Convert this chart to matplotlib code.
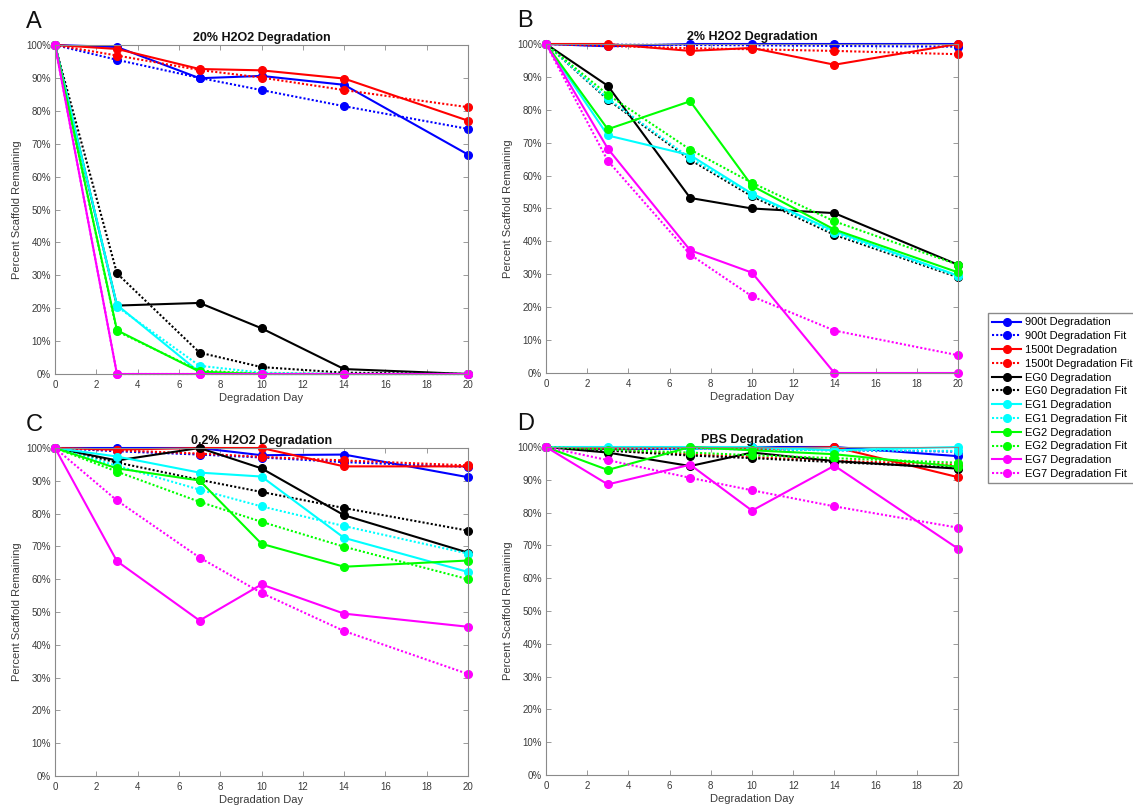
import matplotlib
matplotlib.use("Agg")
import matplotlib.pyplot as plt
from matplotlib.ticker import FuncFormatter

days = [0, 3, 7, 10, 14, 20]

labels = ["900t Degradation", "900t Degradation Fit",
          "1500t Degradation", "1500t Degradation Fit",
          "EG0 Degradation", "EG0 Degradation Fit",
          "EG1 Degradation", "EG1 Degradation Fit",
          "EG2 Degradation", "EG2 Degradation Fit",
          "EG7 Degradation", "EG7 Degradation Fit"]
colors = ["#0000ff", "#0000ff", "#ff0000", "#ff0000", "#000000", "#000000",
          "#00ffff", "#00ffff", "#00ff00", "#00ff00", "#ff00ff", "#ff00ff"]

# 20% H2O2 (panel A), rows in label order
h2o2_20 = [
    [100, 99.4, 89.9, 90.6, 87.9, 66.7],
    [100, 95.5, 90.0, 86.3, 81.4, 74.5],
    [100, 98.8, 92.7, 92.3, 89.8, 77.0],
    [100, 96.8, 92.4, 90.1, 86.3, 81.1],
    [100, 20.8, 21.6, 13.9, 1.5, 0.0],
    [100, 30.6, 6.5, 2.1, 0.4, 0.0],
    [100, 21.0, 0.5, 0.0, 0.0, 0.0],
    [100, 20.5, 2.5, 0.4, 0.0, 0.0],
    [100, 13.3, 0.7, 0.0, 0.0, 0.0],
    [100, 13.0, 1.0, 0.1, 0.0, 0.0],
    [100, 0.0, 0.0, 0.0, 0.0, 0.0],
    [100, 0.0, 0.0, 0.0, 0.0, 0.0],
]

# 2% H2O2 (panel B)
h2o2_2 = [
    [100, 99.3, 100, 100, 100, 100],
    [100, 99.8, 99.7, 99.6, 99.4, 99.2],
    [100, 100, 97.9, 98.8, 93.7, 100],
    [100, 99.4, 98.7, 98.4, 97.9, 96.9],
    [100, 87.3, 53.2, 50.0, 48.6, 32.9],
    [100, 83.1, 64.8, 53.7, 42.0, 29.1],
    [100, 72.2, 66.2, 54.5, 43.1, 29.6],
    [100, 83.4, 65.3, 54.2, 42.5, 29.4],
    [100, 74.1, 82.6, 56.9, 43.6, 30.6],
    [100, 84.6, 67.9, 57.8, 46.1, 32.9],
    [100, 68.2, 37.3, 30.5, 0.0, 0.0],
    [100, 64.5, 36.0, 23.3, 12.9, 5.4],
]

# 0.2% H2O2 (panel C)
h2o2_02 = [
    [100, 100, 100, 97.8, 98.0, 91.1],
    [100, 99.0, 98.0, 97.1, 95.7, 94.2],
    [100, 99.5, 100, 100, 94.4, 94.4],
    [100, 99.3, 98.3, 97.3, 96.2, 94.7],
    [100, 96.2, 100, 93.8, 79.5, 68.1],
    [100, 95.6, 90.3, 86.6, 81.7, 74.8],
    [100, 97.4, 92.5, 91.3, 72.6, 62.2],
    [100, 94.6, 87.3, 82.2, 76.2, 67.8],
    [100, 93.8, 90.1, 70.8, 63.8, 65.7],
    [100, 92.8, 83.6, 77.5, 69.9, 60.0],
    [100, 65.5, 47.4, 58.4, 49.5, 45.5],
    [100, 84.0, 66.6, 55.8, 44.2, 31.1],
]

# PBS (panel D)
pbs = [
    [100, 99.3, 99.5, 100, 100, 97.2],
    [100, 99.8, 99.5, 99.3, 99.0, 98.6],
    [100, 99.5, 99.8, 99.3, 100, 90.8],
    [100, 99.0, 97.8, 96.9, 95.8, 94.6],
    [100, 98.3, 94.2, 98.3, 95.7, 93.4],
    [100, 98.9, 97.4, 96.6, 95.4, 93.7],
    [100, 100, 100, 100, 99.0, 100],
    [100, 99.8, 99.5, 99.3, 99.0, 98.8],
    [100, 93.0, 100, 99.0, 97.8, 94.0],
    [100, 99.2, 98.3, 97.5, 96.6, 95.2],
    [100, 88.6, 94.6, 80.6, 94.3, 69.0],
    [100, 96.0, 90.6, 86.8, 81.9, 75.4],
]

panels = [
    ("A", "20% H2O2 Degradation", h2o2_20, (55, 45, 468, 374)),
    ("B", "2% H2O2 Degradation", h2o2_2, (546, 44, 958, 373)),
    ("C", "0.2% H2O2 Degradation", h2o2_02, (55, 448, 468, 776)),
    ("D", "PBS Degradation", pbs, (546, 447, 958, 775)),
]

plt.rcParams["font.family"] = ["Liberation Sans", "DejaVu Sans"]
W, H = 1133, 809
fig = plt.figure(figsize=(W / 100, H / 100), dpi=100)

text_col = "#3a3a3a"
axis_col = "#8a8a8a"

handles = []
for letter, title, data, (x0, y0, x1, y1) in panels:
    ax = fig.add_axes([x0 / W, 1 - y1 / H, (x1 - x0) / W, (y1 - y0) / H])
    lines = []
    for i, row in enumerate(data):
        ls = "-" if i % 2 == 0 else (0, (1, 1))
        ln, = ax.plot(days, row, color=colors[i], linestyle=ls, linewidth=1.5,
                      marker="o", markersize=5.5, clip_on=False, label=labels[i])
        lines.append(ln)
    handles = lines
    ax.set_xlim(0, 20)
    ax.set_ylim(0, 100)
    ax.set_xticks(range(0, 21, 2))
    ax.set_yticks(range(0, 101, 10))
    ax.yaxis.set_major_formatter(FuncFormatter(lambda v, p: "%d%%" % v))
    ax.tick_params(direction="in", top=True, right=True, length=3.5, width=0.6,
                   color=axis_col, labelsize=7, labelcolor=text_col)
    ax.tick_params(axis="x", pad=4.5)
    ax.tick_params(axis="y", pad=3)
    for s in ax.spines.values():
        s.set_color(axis_col)
        s.set_linewidth(0.8)
    ax.set_title(title, fontsize=9, fontweight="bold", pad=3, color="#111111")
    ax.set_xlabel("Degradation Day", fontsize=8, color=text_col, labelpad=2)
    ax.set_ylabel("Percent Scaffold Remaining", fontsize=8, color=text_col, labelpad=3)
    fig.text((x0 - 29) / W, 1 - (y0 - 17) / H, letter, fontsize=17, ha="left",
             va="baseline", color="#111111")

fig.legend(handles, labels, loc="upper left", bbox_to_anchor=(988 / W, 1 - 313 / H),
           borderaxespad=0, fontsize=8, frameon=True, fancybox=False,
           edgecolor=axis_col, numpoints=1, handlelength=2.6, handletextpad=0.3,
           labelspacing=0.34, borderpad=0.4, framealpha=1)

fig.savefig("out.png", dpi=100)
